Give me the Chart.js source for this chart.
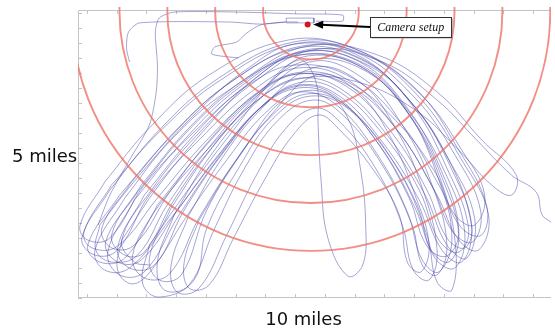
<!DOCTYPE html>
<html>
<head>
<meta charset="utf-8">
<title>Flight tracks</title>
<script src="https://cdn.jsdelivr.net/npm/chart.js@4.4.0/dist/chart.umd.min.js"></script>
<style>
  html, body { margin: 0; padding: 0; background: #fff; }
  #wrap { width: 555px; height: 331px; }
</style>
</head>
<body>
<div id="wrap"><canvas id="tracks" width="555" height="331"></canvas></div>
<script>
// all positions in km, measured from the south-west corner of the map
const KM_PER_MILE = 1.609;
const ringCenter = [7.53, 9.55];
const ringMiles = [1, 2, 3, 4, 5];
const camera = [7.42, 9.12];
const tickX = [0, 1, 2, 3, 4, 5, 6, 7, 8, 9, 10, 11, 12, 13, 14, 15];
const tickY = [0, 0.5, 1, 1.5, 2, 2.5, 3, 3.5, 4, 4.5, 5, 5.5, 6, 6.5, 7, 7.5, 8, 8.5, 9, 9.5];

// racetrack passes: up the west leg, over the top, down the east leg and back
const loopA = [[0.27,1.43],[-0.17,2.00],[0.77,3.60],[2.43,5.60],[4.43,7.33],[6.93,8.53],[9.10,8.27],[11.10,6.77],[12.60,4.60],[13.50,2.77],[13.17,1.60],[12.50,1.93],[11.77,3.43],[10.43,5.60],[8.77,7.27],[7.10,7.67],[5.60,6.93],[3.77,5.27],[2.10,3.43],[1.03,1.60],[0.27,1.43]];
const loopB = [[0.43,1.20],[0.03,1.77],[1.10,3.43],[2.77,5.33],[4.70,7.10],[7.10,8.33],[9.17,8.00],[10.83,6.60],[12.17,4.60],[13.03,2.67],[12.77,1.33],[12.10,1.77],[11.37,3.43],[10.17,5.33],[8.60,6.93],[7.17,7.33],[5.83,6.67],[4.10,5.00],[2.43,3.10],[1.27,1.33],[0.43,1.20]];
const loopC = [[1.10,0.77],[0.70,1.53],[1.60,3.27],[3.27,5.27],[5.10,7.00],[7.27,8.20],[9.43,7.77],[11.10,6.27],[12.27,4.27],[12.93,2.43],[12.60,1.20],[11.93,1.60],[11.17,3.27],[9.93,5.20],[8.43,6.77],[7.10,7.10],[5.93,6.43],[4.50,4.77],[3.10,2.77],[1.93,0.87],[1.10,0.77]];
const loopD = [[2.43,0.03],[1.87,0.50],[2.10,1.77],[3.27,3.43],[4.93,5.60],[6.27,7.27],[7.43,8.07],[9.27,7.67],[10.83,6.10],[11.83,4.10],[12.37,1.93],[12.27,0.27],[11.77,0.53],[11.43,2.10],[10.37,4.43],[8.83,6.27],[7.50,6.73],[6.27,6.00],[5.10,4.33],[4.03,2.33],[3.60,0.60],[2.43,0.03]];
const loopE = [[2.60,0.27],[2.37,1.20],[2.93,2.77],[4.10,4.67],[5.60,6.43],[7.50,7.87],[9.27,7.33],[10.60,5.77],[11.60,3.77],[12.10,1.77],[11.77,0.77],[11.27,1.10],[10.93,2.43],[9.93,4.43],[8.60,6.10],[7.60,6.60],[6.43,5.93],[5.27,4.27],[4.27,2.27],[3.43,0.43],[2.60,0.27]];
const loopF = [[1.43,1.00],[1.03,1.67],[1.93,3.43],[3.60,5.43],[5.37,7.10],[7.37,8.27],[9.37,7.87],[10.93,6.43],[12.10,4.33],[12.83,2.33],[12.50,1.53],[11.83,1.93],[11.17,3.60],[9.97,5.43],[8.50,6.87],[7.27,7.20],[6.03,6.53],[4.60,4.87],[3.27,2.93],[2.27,1.10],[1.43,1.00]];
const loopG = [[0.03,1.93],[-0.23,2.43],[0.60,3.87],[2.10,5.67],[4.10,7.43],[6.77,8.60],[8.93,8.33],[11.03,7.00],[12.50,4.93],[13.43,3.10],[13.27,2.10],[12.60,2.33],[11.83,3.77],[10.60,5.77],[8.93,7.33],[7.03,7.77],[5.43,7.10],[3.60,5.53],[1.93,3.77],[0.77,2.00],[0.03,1.93]];
const loopH = [[0.60,0.93],[0.27,1.60],[1.27,3.33],[2.83,5.27],[4.77,6.93],[7.17,8.10],[9.27,7.73],[10.83,6.20],[12.03,4.20],[12.70,2.20],[12.37,1.00],[11.70,1.33],[11.03,3.00],[9.83,5.10],[8.37,6.67],[7.10,7.00],[5.83,6.33],[4.37,4.67],[2.83,2.67],[1.43,1.00],[0.60,0.93]];
const loopI = [[1.53,0.47],[1.03,0.93],[1.17,1.93],[2.43,3.77],[4.10,5.77],[5.60,7.27],[7.10,8.10],[9.17,7.73],[10.77,6.20],[11.77,4.10],[12.27,2.00],[11.83,0.87],[11.27,1.27],[10.77,2.87],[9.77,4.77],[8.43,6.40],[7.17,6.87],[6.03,6.20],[4.70,4.60],[3.27,2.60],[2.17,0.93],[1.53,0.47]];
const loopJ = [[0.83,1.67],[0.50,2.33],[1.50,3.87],[3.17,5.77],[5.03,7.33],[7.23,8.40],[9.37,8.10],[11.27,6.73],[12.60,4.93],[13.37,3.43],[13.03,2.43],[12.37,2.77],[11.70,4.20],[10.37,5.93],[8.77,7.20],[7.23,7.53],[5.83,6.93],[4.27,5.43],[2.83,3.60],[1.60,1.77],[0.83,1.67]];
const loopK = [[3.03,0.20],[2.83,1.10],[3.43,2.77],[4.50,4.60],[5.83,6.27],[7.60,7.67],[9.17,7.20],[10.37,5.67],[11.27,3.67],[11.77,1.60],[11.50,0.60],[10.97,0.93],[10.60,2.43],[9.70,4.33],[8.50,5.87],[7.70,6.33],[6.70,5.67],[5.70,4.10],[4.70,2.10],[3.77,0.33],[3.03,0.20]];
const loopL = [[1.27,1.43],[0.83,2.10],[1.83,3.77],[3.43,5.67],[5.27,7.27],[7.43,8.40],[9.77,8.10],[11.77,6.87],[13.27,5.27],[14.43,4.10],[14.27,3.43],[13.60,3.77],[12.50,4.93],[11.03,6.27],[9.10,7.20],[7.27,7.33],[5.83,6.67],[4.27,5.10],[2.93,3.27],[1.93,1.53],[1.27,1.43]];
const loopM = [[0.17,1.67],[-0.10,2.20],[0.83,3.77],[2.50,5.60],[4.50,7.27],[6.97,8.47],[9.03,8.20],[10.97,6.73],[12.37,4.77],[13.23,2.93],[12.97,1.87],[12.30,2.20],[11.63,3.67],[10.37,5.67],[8.83,7.07],[7.10,7.47],[5.70,6.80],[3.97,5.20],[2.37,3.33],[1.03,1.73],[0.17,1.67]];
const loopN = [[1.93,0.67],[1.53,1.40],[2.37,3.10],[3.93,5.00],[5.63,6.73],[7.43,7.93],[9.43,7.53],[10.97,5.93],[11.97,3.93],[12.50,2.10],[12.17,1.20],[11.57,1.60],[11.10,3.10],[10.03,4.93],[8.63,6.47],[7.37,6.80],[6.27,6.13],[4.97,4.53],[3.77,2.67],[2.77,0.80],[1.93,0.67]];
const loopP = [[1.03,1.20],[0.63,1.87],[1.70,3.53],[3.30,5.47],[5.17,7.13],[7.17,8.20],[9.17,7.87],[10.77,6.33],[11.90,4.27],[12.50,2.27],[12.10,1.40],[11.43,1.73],[10.83,3.33],[9.70,5.27],[8.37,6.73],[7.17,7.07],[5.97,6.47],[4.50,4.87],[3.10,3.00],[1.83,1.27],[1.03,1.20]];
const loopQ = [[3.43,0.33],[3.27,1.20],[3.77,2.60],[4.83,4.33],[6.10,6.00],[7.70,7.43],[9.03,6.93],[10.17,5.43],[11.03,3.43],[11.50,1.77],[11.23,0.87],[10.77,1.20],[10.50,2.77],[9.63,4.27],[8.50,5.60],[7.77,6.10],[6.93,5.43],[5.93,3.87],[4.93,2.00],[4.10,0.43],[3.43,0.33]];
const loopR = [[0.83,1.20],[0.30,1.60],[0.43,2.43],[1.77,4.10],[3.60,6.10],[5.43,7.67],[7.03,8.47],[9.03,8.13],[10.83,6.60],[12.17,4.60],[12.93,2.43],[12.70,1.67],[12.10,2.00],[11.43,3.60],[10.23,5.53],[8.70,7.07],[7.10,7.47],[5.70,6.73],[4.17,5.10],[2.70,3.10],[1.70,1.43],[0.83,1.20]];
const middleLoop = [[2.43,0.60],[2.10,1.33],[2.83,3.00],[4.10,4.87],[5.60,6.60],[7.10,7.93],[7.70,7.20],[7.77,5.77],[7.87,3.93],[8.10,2.00],[8.77,0.73],[9.27,1.10],[9.37,2.43],[9.20,4.27],[8.77,6.00],[7.93,6.87],[6.60,6.60],[5.27,4.93],[4.03,2.93],[3.17,0.77],[2.43,0.60]];

// tracks that do not close on themselves
const eastRoute = [[2.10,1.10],[1.60,1.20],[1.17,1.93],[2.17,3.60],[3.70,5.43],[5.50,7.10],[7.60,8.27],[9.93,7.87],[11.77,6.60],[13.10,5.27],[14.27,4.10],[15.10,3.53],[15.30,2.77],[15.60,2.53]];
const northRoute = [[7.70,9.23],[8.60,9.23],[8.60,9.43],[7.10,9.47],[5.10,9.53],[2.93,9.53],[2.43,9.33],[2.30,8.87],[2.37,7.77],[2.33,6.87],[2.10,5.77],[1.43,4.60],[0.77,3.43],[0.37,2.43]];
const westSpur = [[6.67,9.20],[5.83,9.13],[4.77,9.20],[1.77,9.17],[1.40,8.87],[1.33,8.33],[1.43,7.87]];
const climbOut = [[7.10,9.20],[6.70,9.20],[5.83,9.10],[5.37,8.83],[5.03,8.53],[4.30,8.37],[4.20,8.13],[5.10,8.00]];
const padBox = [[6.70,9.33],[7.63,9.33],[7.63,9.17],[6.70,9.17],[6.70,9.33]];

const loops = [loopA, loopB, loopC, loopD, loopE, loopF, loopG, loopH, loopI, loopJ,
               loopK, loopL, loopM, loopN, loopP, loopQ, loopR, middleLoop];
const strays = [northRoute, westSpur, climbOut];

const TRACK = 'rgba(60, 60, 165, 0.55)';

// start a closed pass on the straight west leg so the seam of the spline
// does not land on a turn
function fromLeg(p) {
    return p.slice(2, -1).concat([p[0], p[1], p[2]]);
}

function trackSet(points, tension) {
    return {
        data: points,
        showLine: true,
        borderColor: TRACK,
        borderWidth: 0.85,
        pointRadius: 0,
        tension: tension,
        fill: false
    };
}

// light frame with inward ticks on the left, top and bottom
const frame = {
    id: 'frame',
    beforeDatasetsDraw(chart) {
        const { ctx, chartArea: a, scales: { x, y } } = chart;
        ctx.save();
        ctx.strokeStyle = '#c4c4c4';
        ctx.lineWidth = 1;
        ctx.beginPath();
        ctx.moveTo(a.right, a.top + 0.5);
        ctx.lineTo(a.left + 0.5, a.top + 0.5);
        ctx.lineTo(a.left + 0.5, a.bottom - 0.5);
        ctx.lineTo(a.right, a.bottom - 0.5);
        tickX.forEach(v => {
            const px = Math.round(x.getPixelForValue(v)) + 0.5;
            ctx.moveTo(px, a.bottom);
            ctx.lineTo(px, a.bottom - 4);
            ctx.moveTo(px, a.top);
            ctx.lineTo(px, a.top + 4);
        });
        tickY.forEach(v => {
            const py = Math.round(y.getPixelForValue(v)) + 0.5;
            ctx.moveTo(a.left, py);
            ctx.lineTo(a.left + 4, py);
        });
        ctx.stroke();
        ctx.restore();
    }
};

// range rings, one mile apart, around the ring centre
const rings = {
    id: 'rings',
    afterDatasetsDraw(chart) {
        const { ctx, chartArea: a, scales: { x, y } } = chart;
        const cx = x.getPixelForValue(ringCenter[0]);
        const cy = y.getPixelForValue(ringCenter[1]);
        ctx.save();
        ctx.beginPath();
        ctx.rect(a.left, a.top - 3, a.right - a.left, a.bottom - a.top + 3);
        ctx.clip();
        ctx.strokeStyle = 'rgba(238, 118, 106, 0.82)';
        ctx.lineWidth = 1.9;
        ringMiles.forEach(m => {
            const r = x.getPixelForValue(ringCenter[0] + m * KM_PER_MILE) - cx;
            ctx.beginPath();
            ctx.arc(cx, cy, r, 0, Math.PI * 2);
            ctx.stroke();
        });
        ctx.restore();
    }
};

// scale labels plus the callout pointing at the camera
const notes = {
    id: 'notes',
    afterDraw(chart, args, opts) {
        const { ctx, scales: { x, y } } = chart;
        ctx.save();
        ctx.fillStyle = '#111';
        ctx.font = '18px "DejaVu Sans"';
        ctx.textAlign = 'left';
        ctx.fillText(opts.yText, 12, 162);
        ctx.textAlign = 'center';
        ctx.fillText(opts.xText, 303.5, 325);

        const bx = x.getPixelForValue(opts.callout[0]);
        const by = y.getPixelForValue(opts.callout[1]);
        ctx.font = 'italic 12px "Liberation Serif"';
        const w = ctx.measureText(opts.label).width + 14;
        const h = 20;
        ctx.fillStyle = '#999';
        ctx.fillRect(bx + 1.5, by + 1.5, w, h);
        ctx.fillStyle = '#fff';
        ctx.fillRect(bx, by, w, h);
        ctx.strokeStyle = '#333';
        ctx.lineWidth = 1;
        ctx.strokeRect(Math.round(bx) + 0.5, Math.round(by) + 0.5, w, h);
        ctx.fillStyle = '#111';
        ctx.textAlign = 'left';
        ctx.fillText(opts.label, bx + 7, by + 14);

        // arrow from the box to the camera dot
        const tx = x.getPixelForValue(camera[0]) + 5.5;
        const ty = y.getPixelForValue(camera[1]);
        const sx = bx, sy = by + h / 2;
        const ang = Math.atan2(ty - sy, tx - sx);
        ctx.strokeStyle = '#000';
        ctx.lineWidth = 2;
        ctx.beginPath();
        ctx.moveTo(sx, sy);
        ctx.lineTo(tx - 8 * Math.cos(ang), ty - 8 * Math.sin(ang));
        ctx.stroke();
        ctx.fillStyle = '#000';
        ctx.beginPath();
        ctx.moveTo(tx, ty);
        ctx.lineTo(tx - 10 * Math.cos(ang) + 4 * Math.sin(ang), ty - 10 * Math.sin(ang) - 4 * Math.cos(ang));
        ctx.lineTo(tx - 10 * Math.cos(ang) - 4 * Math.sin(ang), ty - 10 * Math.sin(ang) + 4 * Math.cos(ang));
        ctx.closePath();
        ctx.fill();
        ctx.restore();
    }
};

const datasets = [];
loops.forEach(t => datasets.push(trackSet(fromLeg(t), 0.4)));
datasets.push(trackSet(eastRoute, 0.4));
strays.forEach(t => datasets.push(trackSet(t, 0.25)));
datasets.push(trackSet(padBox, 0));
datasets.push({
    data: [camera],
    showLine: false,
    pointRadius: 3,
    pointBackgroundColor: '#e3120b',
    pointBorderWidth: 0
});

new Chart(document.getElementById('tracks'), {
    type: 'scatter',
    data: { datasets: datasets },
    options: {
        responsive: false,
        animation: false,
        events: [],
        layout: { padding: { left: 78, top: 10, right: 0, bottom: 33 } },
        scales: {
            x: { type: 'linear', min: -0.3, max: 15.6, display: false },
            y: { type: 'linear', min: 0, max: 9.6, display: false }
        },
        plugins: {
            legend: { display: false },
            tooltip: { enabled: false },
            notes: {
                xText: '10 miles',
                yText: '5 miles',
                label: 'Camera setup',
                callout: [9.52, 9.37]
            }
        }
    },
    plugins: [frame, rings, notes]
});
</script>
</body>
</html>
